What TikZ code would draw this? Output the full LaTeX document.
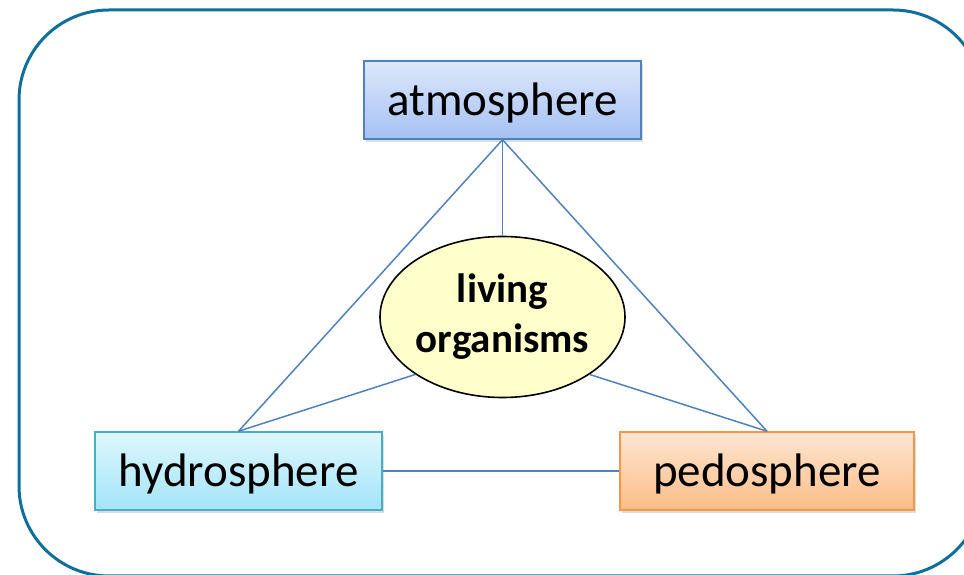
\documentclass[tikz,border=0pt]{standalone}
\usepackage{fontspec}
\setmainfont{Carlito}
\usetikzlibrary{shapes.geometric,shadows}
\definecolor{framecol}{HTML}{0E6E9C}
\definecolor{linkcol}{HTML}{4F81BD}
\definecolor{atmtop}{HTML}{DDE7FB}
\definecolor{atmbot}{HTML}{A5C1F3}
\definecolor{atmdraw}{HTML}{4F81BD}
\definecolor{hydtop}{HTML}{DFF7FD}
\definecolor{hydbot}{HTML}{A2E4F8}
\definecolor{hyddraw}{HTML}{4BACC6}
\definecolor{pedtop}{HTML}{FDE6D3}
\definecolor{pedbot}{HTML}{FBBD86}
\definecolor{peddraw}{HTML}{F79646}
\definecolor{livfill}{HTML}{FFFFCC}
\tikzset{
  spherebox/.style={rectangle, minimum height=78pt, inner sep=0pt, line width=1.5pt,
    font=\fontsize{47}{56}\selectfont, text height=39pt, text depth=8pt,
    drop shadow={opacity=0.28, shadow xshift=2pt, shadow yshift=-3pt}},
  link/.style={draw=linkcol, line width=1.5pt},
}
\begin{document}
\begin{tikzpicture}[x=1pt,y=1pt]
\useasboundingbox (0,0) rectangle (964,575);
\begin{scope}
\clip (0,0) rectangle (964,575);
\draw[framecol, line width=3pt, rounded corners=90pt] (19,-1) rectangle (983,565);
\end{scope}
\node[spherebox, minimum width=277pt, draw=atmdraw, top color=atmtop, bottom color=atmbot] (atm) at (502.5,475) {atmosphere};
\node[spherebox, minimum width=287pt, draw=hyddraw, top color=hydtop, bottom color=hydbot] (hyd) at (238.5,104) {hydrosphere};
\node[spherebox, minimum width=294pt, draw=peddraw, top color=pedtop, bottom color=pedbot] (ped) at (767,104) {pedosphere};
\node[ellipse, minimum width=240pt, minimum height=161pt, inner sep=0pt, draw=black, line width=1.6pt, fill=livfill, align=center, font=\bfseries\fontsize{41}{50}\selectfont] (liv) at (502.5,258) {\raisebox{-3pt}{living}\\\raisebox{-3pt}{organisms}};
\draw[link] (atm.south) -- (hyd.north);
\draw[link] (atm.south) -- (ped.north);
\draw[link] (atm.south) -- (liv.north);
\draw[link] (hyd.north) -- (liv.south west);
\draw[link] (ped.north) -- (liv.south east);
\draw[link] (hyd.east) -- (ped.west);
\end{tikzpicture}
\end{document}
